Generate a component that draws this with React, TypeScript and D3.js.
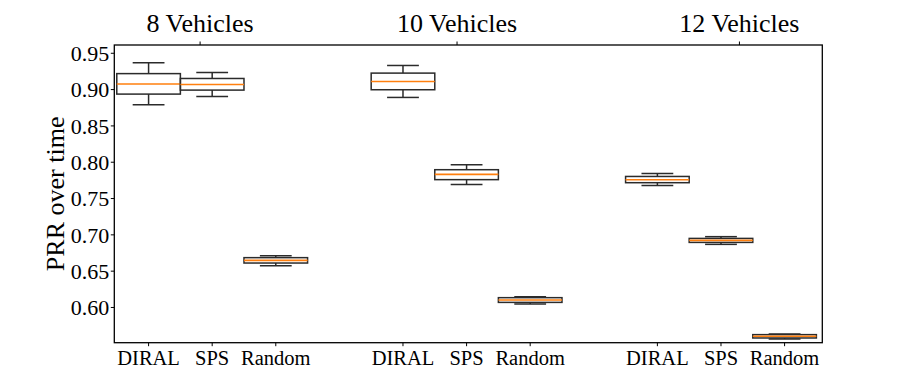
import React from "react";
import * as d3 from "d3";

// group titles (top axis) and method names (bottom axis)
const groups = ["8 Vehicles", "10 Vehicles", "12 Vehicles"];
const groupTickPos = [1.81, 5.85, 10.29];
const methods = ["DIRAL", "SPS", "Random"];
const positions = [1, 2, 3, 5, 6, 7, 9, 10, 11];

// box stats, same order as positions
const whiskLo = [0.879, 0.8905, 0.6575, 0.8892, 0.7694, 0.6048, 0.768, 0.6869, 0.5567];
const q1 = [0.8938, 0.8993, 0.6612, 0.8998, 0.776, 0.607, 0.7718, 0.6896, 0.558];
const median = [0.9076, 0.907, 0.6648, 0.9112, 0.7832, 0.6103, 0.7759, 0.6924, 0.5603];
const q3 = [0.922, 0.9153, 0.6686, 0.9227, 0.7897, 0.6135, 0.7804, 0.6951, 0.5626];
const whiskHi = [0.937, 0.9236, 0.6713, 0.9332, 0.7965, 0.6149, 0.7846, 0.6975, 0.5635];

const yTicks = [0.6, 0.65, 0.7, 0.75, 0.8, 0.85, 0.9, 0.95];

const W = 913;
const H = 385;
const left = 114.3, right = 822.3, top = 45, bottom = 342.7;
const serif = { fontFamily: "'Liberation Serif', 'DejaVu Serif', serif" };

export default function App() {
  const x = d3.scaleLinear().domain([0.461, 11.593]).range([left, right]);
  const y = d3.scaleLinear().domain([0.5515, 0.9614]).range([bottom, top]);
  const bw = x(1) - x(0); // box width = 1 unit
  const fmt = d3.format(".2f");

  return (
    <svg width={W} height={H} style={{ position: "absolute", left: 0, top: 0 }}>
      <rect width={W} height={H} fill="#fff" />

      {/* boxes */}
      {positions.map((p, i) => {
        const cx = x(p);
        const x0 = cx - bw / 2;
        const stroke = "#2b2b2b";
        return (
          <g key={i} stroke={stroke} strokeWidth={1.5} fill="none">
            <line x1={cx} x2={cx} y1={y(q3[i])} y2={y(whiskHi[i])} />
            <line x1={cx} x2={cx} y1={y(q1[i])} y2={y(whiskLo[i])} />
            <line x1={cx - bw / 4} x2={cx + bw / 4} y1={y(whiskHi[i])} y2={y(whiskHi[i])} />
            <line x1={cx - bw / 4} x2={cx + bw / 4} y1={y(whiskLo[i])} y2={y(whiskLo[i])} />
            <rect x={x0} y={y(q3[i])} width={bw} height={y(q1[i]) - y(q3[i])} />
            <line x1={x0} x2={x0 + bw} y1={y(median[i])} y2={y(median[i])} stroke="#ff7f0e" strokeWidth={1.6} />
          </g>
        );
      })}

      {/* frame */}
      <rect x={left} y={top} width={right - left} height={bottom - top} fill="none" stroke="#000" strokeWidth={1.3} />

      {/* y axis */}
      {yTicks.map((t) => (
        <g key={t}>
          <line x1={left - 3.5} x2={left} y1={y(t)} y2={y(t)} stroke="#000" strokeWidth={1} />
          <text x={left - 5} y={y(t)} dy="0.35em" textAnchor="end" fontSize={22} style={serif}>
            {fmt(t)}
          </text>
        </g>
      ))}
      <text
        transform={`translate(64,${(top + bottom) / 2}) rotate(-90)`}
        textAnchor="middle"
        fontSize={26}
        style={serif}
      >
        PRR over time
      </text>

      {/* bottom axis */}
      {positions.map((p, i) => (
        <g key={"b" + i}>
          <line x1={x(p)} x2={x(p)} y1={bottom} y2={bottom + 3.5} stroke="#000" strokeWidth={1} />
          <text x={x(p)} y={365} textAnchor="middle" fontSize={20.5} style={serif}>
            {methods[i % 3]}
          </text>
        </g>
      ))}

      {/* top axis: group titles */}
      {groupTickPos.map((p, i) => (
        <g key={"t" + i}>
          <line x1={x(p)} x2={x(p)} y1={top} y2={top - 3.5} stroke="#000" strokeWidth={1} />
          <text x={x(p)} y={32} textAnchor="middle" fontSize={26} style={serif}>
            {groups[i]}
          </text>
        </g>
      ))}
    </svg>
  );
}
